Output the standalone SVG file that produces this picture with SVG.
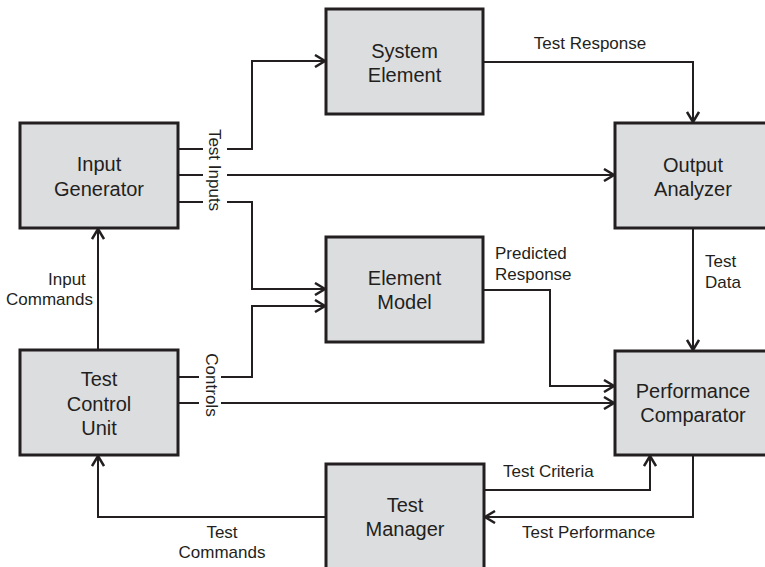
<svg xmlns="http://www.w3.org/2000/svg" width="765" height="567" viewBox="0 0 765 567">
<defs>
<style>
.box{fill:#dcdddf;stroke:#231f20;stroke-width:3}
.nt{font-family:"Liberation Sans",Arial,sans-serif;font-size:20px;fill:#231f20;text-anchor:middle}
.lt{font-family:"Liberation Sans",Arial,sans-serif;font-size:17px;fill:#231f20}
.c{fill:none;stroke:#231f20;stroke-width:2}
.a{marker-end:url(#arr)}
</style>
<marker id="arr" markerUnits="userSpaceOnUse" markerWidth="14" markerHeight="14" refX="11" refY="7" orient="auto">
<path d="M1,1 L11,7 L1,13" fill="none" stroke="#231f20" stroke-width="2.5"/>
</marker>
</defs>
<rect width="765" height="567" fill="#ffffff"/>
<g id="connectors">
<path class="c" d="M178,149 H203"/>
<path class="c a" d="M227,149 H252 V61 H325"/>
<path class="c" d="M178,175 H203"/>
<path class="c a" d="M227,175 H614"/>
<path class="c" d="M178,202 H203"/>
<path class="c a" d="M227,202 H252 V289 H325"/>
<path class="c" d="M178,377 H199"/>
<path class="c a" d="M221,377 H252 V306 H325"/>
<path class="c" d="M178,403 H199"/>
<path class="c a" d="M221,403 H614"/>
<path class="c a" d="M483,62 H693 V122"/>
<path class="c a" d="M693,228 V350"/>
<path class="c a" d="M483,290 H550 V386 H614"/>
<path class="c a" d="M484,490 H650 V456"/>
<path class="c a" d="M693,455 V517 H485"/>
<path class="c a" d="M98,350 V229"/>
<path class="c a" d="M326,517 H98 V456"/>
<text class="lt" transform="translate(209,170) rotate(90)" text-anchor="middle">Test Inputs</text>
<text class="lt" transform="translate(206,385) rotate(90)" text-anchor="middle">Controls</text>
<text class="lt" x="590" y="49" text-anchor="middle">Test Response</text>
<text class="lt" x="705" y="267">Test</text>
<text class="lt" x="705" y="288">Data</text>
<text class="lt" x="495" y="259">Predicted</text>
<text class="lt" x="495" y="280">Response</text>
<text class="lt" x="48" y="285">Input</text>
<text class="lt" x="6" y="305">Commands</text>
<text class="lt" x="222" y="538" text-anchor="middle">Test</text>
<text class="lt" x="222" y="558" text-anchor="middle">Commands</text>
<text class="lt" x="503" y="477">Test Criteria</text>
<text class="lt" x="522" y="538">Test Performance</text>
</g>
<g id="input-generator">
<rect class="box" x="20" y="123" width="158" height="105"/>
<text class="nt" x="99" y="171">Input</text>
<text class="nt" x="99" y="196">Generator</text>
</g>
<g id="system-element">
<rect class="box" x="326" y="9" width="157" height="105"/>
<text class="nt" x="404.5" y="58">System</text>
<text class="nt" x="404.5" y="82">Element</text>
</g>
<g id="output-analyzer">
<rect class="box" x="615" y="123" width="158" height="105"/>
<text class="nt" x="693" y="172">Output</text>
<text class="nt" x="693" y="196">Analyzer</text>
</g>
<g id="element-model">
<rect class="box" x="326" y="237" width="157" height="105"/>
<text class="nt" x="404.5" y="285">Element</text>
<text class="nt" x="404.5" y="309">Model</text>
</g>
<g id="test-control-unit">
<rect class="box" x="20" y="350" width="158" height="105"/>
<text class="nt" x="99" y="386">Test</text>
<text class="nt" x="99" y="411">Control</text>
<text class="nt" x="99" y="435">Unit</text>
</g>
<g id="performance-comparator">
<rect class="box" x="615" y="351" width="158" height="104"/>
<text class="nt" x="693" y="398">Performance</text>
<text class="nt" x="693" y="422">Comparator</text>
</g>
<g id="test-manager">
<rect class="box" x="326" y="464" width="158" height="110"/>
<text class="nt" x="405" y="512">Test</text>
<text class="nt" x="405" y="536">Manager</text>
</g>
</svg>
